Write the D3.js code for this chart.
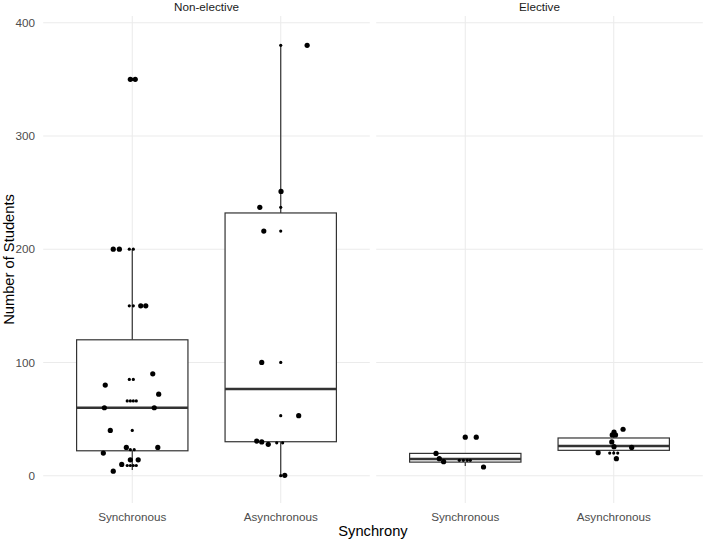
<!DOCTYPE html>
<html>
<head>
<meta charset="utf-8">
<script src="https://cdn.jsdelivr.net/npm/d3@7"></script>
<style>
  html, body { margin: 0; padding: 0; background: #fff; }
  svg { display: block; font-family: "Liberation Sans", Arial, sans-serif; }
</style>
</head>
<body>
<svg id="chart" width="705" height="540"></svg>
<script>
// ---------- data ----------
const facets = ["Non-elective", "Elective"];
const groups = ["Synchronous", "Asynchronous"];
const yTicks = [0, 100, 200, 300, 400];

// box statistics, order: [NE-Sync, NE-Async, E-Sync, E-Async]
const boxLow  = [5, 0, 8.5, 20];
const boxQ1   = [22, 30, 12, 22.4];
const boxMed  = [60, 76.5, 14.7, 26.2];
const boxQ3   = [120, 232, 19.7, 33.3];
const boxHigh = [200, 380, 19.7, 37];

// jittered points (values and horizontal jitter in category units)
const jitNESyncVal = [350, 350, 200, 200, 150, 150, 90, 80, 72, 60, 60, 40, 25, 25, 20, 14, 14, 10, 4];
const jitNESyncOff = [-0.013, 0.02, -0.128, -0.087, 0.057, 0.091, 0.138, -0.182, 0.178, -0.188, 0.148, -0.148, -0.04, 0.172, -0.195, -0.013, 0.04, -0.071, -0.128];
const jitNEAsyncVal = [380, 251, 237, 216, 100, 53, 30.6, 29.8, 27.7, 0.3];
const jitNEAsyncOff = [0.178, 0.002, -0.141, -0.114, -0.128, 0.121, -0.162, -0.128, -0.084, 0.027];
const jitESyncVal = [34, 34, 19.7, 15, 12.4, 7.7];
const jitESyncOff = [0, 0.074, -0.197, -0.175, -0.146, 0.123];
const jitEAsyncVal = [41, 38.5, 36, 36, 29.8, 25.6, 25, 20.3, 15];
const jitEAsyncOff = [0.063, 0.002, -0.01, 0.012, -0.013, 0.002, 0.121, -0.105, 0.018];

// raw (non-jittered) points drawn small at the category centre
const rawNESyncVal = [350, 200, 200, 150, 150, 85, 85, 66, 66, 66, 66, 40, 23, 23, 9, 9, 9, 9];
const rawNESyncOff = [0, -0.02, 0.007, -0.02, 0.007, -0.02, 0.007, -0.034, -0.013, 0.007, 0.027, 0, -0.013, 0.013, -0.034, -0.013, 0.007, 0.027];
const rawNEAsyncVal = [380, 237, 216, 100, 53, 29, 29, 0];
const rawNEAsyncOff = [0, 0, 0, 0, 0, -0.027, 0.013, 0];
const rawESyncVal = [13.6, 13.6, 13.6, 13.6];
const rawESyncOff = [-0.04, -0.013, 0.013, 0.034];
const rawEAsyncVal = [37, 20, 20, 20];
const rawEAsyncOff = [0, -0.027, 0, 0.027];

const jitVals = [jitNESyncVal, jitNEAsyncVal, jitESyncVal, jitEAsyncVal];
const jitOffs = [jitNESyncOff, jitNEAsyncOff, jitESyncOff, jitEAsyncOff];
const rawVals = [rawNESyncVal, rawNEAsyncVal, rawESyncVal, rawEAsyncVal];
const rawOffs = [rawNESyncOff, rawNEAsyncOff, rawESyncOff, rawEAsyncOff];

// ---------- layout ----------
const svg = d3.select("#chart");
const panelTop = 16, panelBottom = 503;
const panelX = [[43.2, 369.8], [376.2, 702.8]];
const y = d3.scaleLinear().domain([0, 400]).range([475.7, 22.7]);

const gridCol = "#EBEBEB";
const boxCol = "#333333";

facets.forEach((facet, fi) => {
  const [x0, x1] = panelX[fi];
  // ggplot discrete scale: 0.6 units of expansion on each side
  const x = d3.scalePoint().domain(groups).range([x0, x1]).padding(0.6);
  const unit = x.step();
  const cx = g => x(g);

  const gp = svg.append("g");

  // horizontal grid
  gp.selectAll("line.hg").data(yTicks).enter().append("line")
    .attr("x1", x0).attr("x2", x1)
    .attr("y1", d => y(d)).attr("y2", d => y(d))
    .attr("stroke", gridCol).attr("stroke-width", 1.07);
  // vertical grid
  gp.selectAll("line.vg").data(groups).enter().append("line")
    .attr("x1", d => cx(d)).attr("x2", d => cx(d))
    .attr("y1", panelTop).attr("y2", panelBottom)
    .attr("stroke", gridCol).attr("stroke-width", 1.07);

  // strip title
  svg.append("text").attr("x", (x0 + x1) / 2).attr("y", 10.5)
    .attr("text-anchor", "middle").attr("font-size", 11.7).attr("fill", "#1A1A1A")
    .text(facet);

  // x tick labels
  groups.forEach(g => {
    svg.append("text").attr("x", cx(g)).attr("y", 521)
      .attr("text-anchor", "middle").attr("font-size", 11.7).attr("fill", "#4D4D4D")
      .text(g);
  });

  const bw = unit * 0.75;
  groups.forEach((g, gi) => {
    const k = fi * 2 + gi;
    const c = cx(g);
    gp.append("line").attr("x1", c).attr("x2", c)
      .attr("y1", y(boxQ3[k])).attr("y2", y(boxHigh[k]))
      .attr("stroke", boxCol).attr("stroke-width", 1.2);
    gp.append("line").attr("x1", c).attr("x2", c)
      .attr("y1", y(boxQ1[k])).attr("y2", y(boxLow[k]))
      .attr("stroke", boxCol).attr("stroke-width", 1.2);
    gp.append("rect").attr("x", c - bw / 2).attr("width", bw)
      .attr("y", y(boxQ3[k])).attr("height", y(boxQ1[k]) - y(boxQ3[k]))
      .attr("fill", "#fff").attr("stroke", boxCol).attr("stroke-width", 1.2);
    gp.append("line").attr("x1", c - bw / 2).attr("x2", c + bw / 2)
      .attr("y1", y(boxMed[k])).attr("y2", y(boxMed[k]))
      .attr("stroke", boxCol).attr("stroke-width", 2.4);
  });

  groups.forEach((g, gi) => {
    const k = fi * 2 + gi;
    const c = cx(g);
    gp.selectAll(null).data(rawVals[k].map((v, i) => [v, rawOffs[k][i]])).enter()
      .append("circle")
      .attr("cx", d => c + d[1] * unit).attr("cy", d => y(d[0]))
      .attr("r", 1.6).attr("fill", "#000");
    gp.selectAll(null).data(jitVals[k].map((v, i) => [v, jitOffs[k][i]])).enter()
      .append("circle")
      .attr("cx", d => c + d[1] * unit).attr("cy", d => y(d[0]))
      .attr("r", 2.6).attr("fill", "#000");
  });
});

// y tick labels
svg.selectAll("text.yt").data(yTicks).enter().append("text")
  .attr("x", 35).attr("y", d => y(d)).attr("dy", "0.35em")
  .attr("text-anchor", "end").attr("font-size", 11.7).attr("fill", "#4D4D4D")
  .text(d => d);

// axis titles
svg.append("text").attr("x", (43.2 + 702.8) / 2).attr("y", 536)
  .attr("text-anchor", "middle").attr("font-size", 14.7).attr("fill", "#000")
  .text("Synchrony");
svg.append("text")
  .attr("transform", `translate(13.5, ${(panelTop + panelBottom) / 2}) rotate(-90)`)
  .attr("text-anchor", "middle").attr("font-size", 14.7).attr("fill", "#000")
  .text("Number of Students");
</script>
</body>
</html>
